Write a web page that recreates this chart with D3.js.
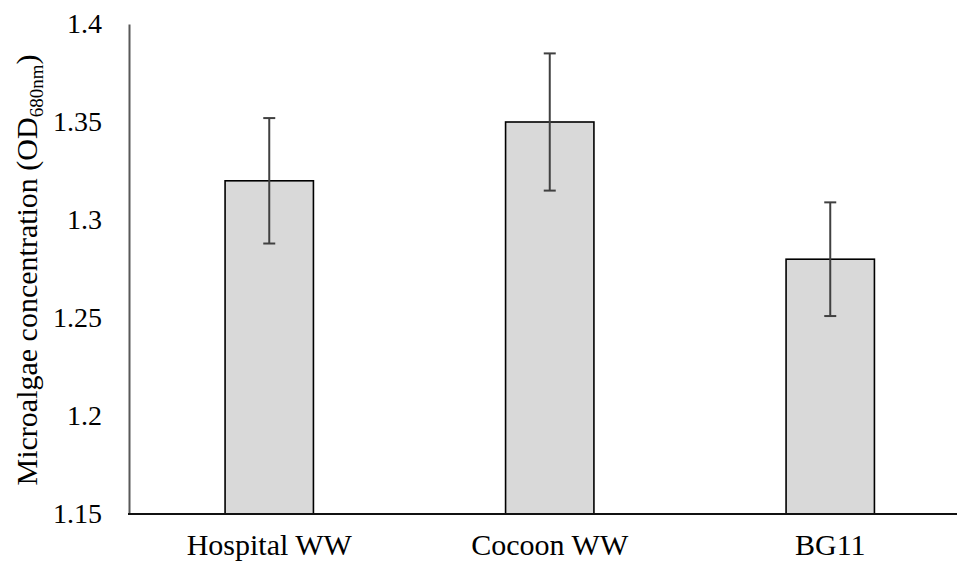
<!DOCTYPE html>
<html lang="en">
<head>
    <meta charset="UTF-8">
    <script src="https://d3js.org/d3.v7.min.js"></script>
    <title>Microalgae concentration</title>
    <style>
        html, body { margin: 0; padding: 0; background: #fff; }
        svg { display: block; }
        svg text { font-family: "Liberation Serif", Tinos, "Times New Roman", Times, "DejaVu Serif", serif; fill: #000; }
    </style>
</head>
<body>
    <div id="chart-container"></div>
    <script>
        // data
        const categories = ["Hospital WW", "Cocoon WW", "BG11"];
        const means = [1.32, 1.35, 1.28];
        const errors = [0.032, 0.035, 0.029];
        const yTicks = [1.15, 1.2, 1.25, 1.3, 1.35, 1.4];

        const w = 957, h = 567;
        const padLeft = 129, padTop = 24, axisY = 514;

        const dataset = categories.map((c, i) => ({ name: c, value: means[i], err: errors[i] }));

        const svg = d3.select("#chart-container")
            .append("svg")
            .attr("width", w)
            .attr("height", h);

        const xScale = d3.scaleBand()
            .domain(categories)
            .range([padLeft, padLeft + 841.5])
            .paddingInner(0.685)
            .paddingOuter(0.3425);

        const yScale = d3.scaleLinear()
            .domain([1.15, 1.4])
            .range([axisY, padTop]);

        // bars
        svg.selectAll("rect.bar")
            .data(dataset)
            .enter()
            .append("rect")
            .attr("class", "bar")
            .attr("x", d => xScale(d.name))
            .attr("y", d => yScale(d.value))
            .attr("width", xScale.bandwidth())
            .attr("height", d => axisY - yScale(d.value))
            .attr("fill", "#d9d9d9")
            .attr("stroke", "#000")
            .attr("stroke-width", 1.6);

        // error bars
        const cx = d => xScale(d.name) + xScale.bandwidth() / 2;
        const errG = svg.append("g")
            .attr("stroke", "#404040")
            .attr("stroke-width", 2);

        errG.selectAll("line.stem")
            .data(dataset)
            .enter()
            .append("line")
            .attr("x1", cx).attr("x2", cx)
            .attr("y1", d => yScale(d.value + d.err))
            .attr("y2", d => yScale(d.value - d.err));

        [1, -1].forEach(s => {
            errG.selectAll(null)
                .data(dataset)
                .enter()
                .append("line")
                .attr("x1", d => cx(d) - 6)
                .attr("x2", d => cx(d) + 6)
                .attr("y1", d => yScale(d.value + s * d.err))
                .attr("y2", d => yScale(d.value + s * d.err));
        });

        // y axis
        const yAxis = d3.axisLeft(yScale)
            .tickValues(yTicks)
            .tickSize(0)
            .tickPadding(27)
            .tickFormat(d => +d.toFixed(2));

        const yG = svg.append("g")
            .attr("transform", `translate(${padLeft},0)`)
            .call(yAxis);
        yG.select(".domain").attr("stroke", "#595959").attr("stroke-width", 2);
        yG.selectAll("text")
            .attr("font-size", "28px")
            .attr("fill", "#000");

        // x axis
        const xAxis = d3.axisBottom(xScale)
            .tickSize(0)
            .tickPadding(20);

        const xG = svg.append("g")
            .attr("transform", `translate(0,${axisY})`)
            .call(xAxis);
        xG.select(".domain").remove();
        xG.selectAll("text")
            .attr("font-size", "30px")
            .attr("fill", "#000");

        svg.append("line")
            .attr("x1", padLeft - 1)
            .attr("x2", w)
            .attr("y1", axisY)
            .attr("y2", axisY)
            .attr("stroke", "#111")
            .attr("stroke-width", 2);

        // y axis label
        const yLabel = svg.append("text")
            .attr("transform", `translate(37,270) rotate(-90)`)
            .attr("text-anchor", "middle")
            .attr("font-size", "30px");
        yLabel.append("tspan").text("Microalgae concentration (OD");
        yLabel.append("tspan").attr("font-size", "19px").attr("dy", 6).text("680nm");
        yLabel.append("tspan").attr("dy", -6).text(")");
    </script>
</body>
</html>
